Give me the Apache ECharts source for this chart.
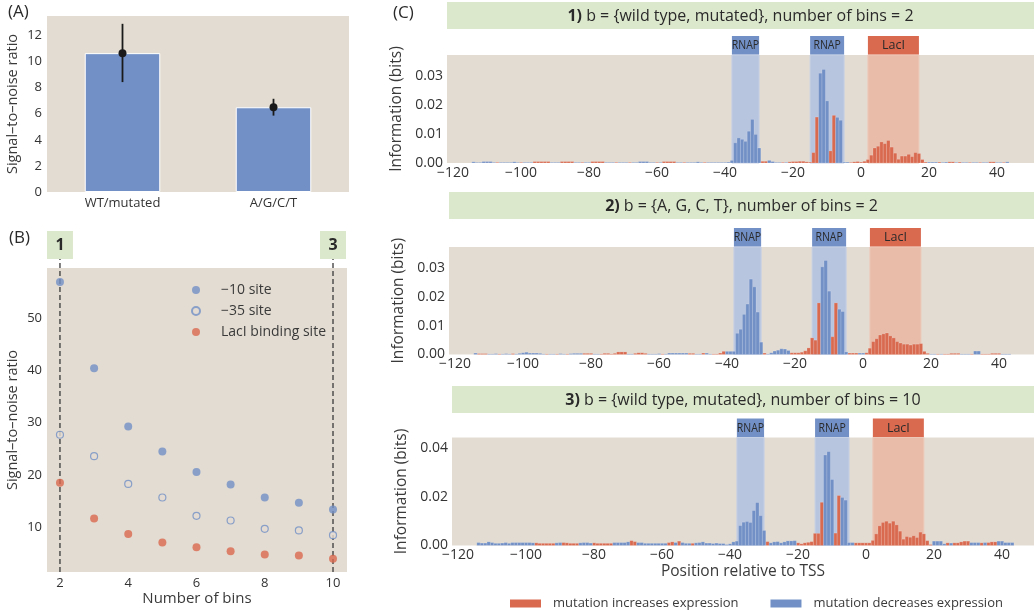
<!DOCTYPE html>
<html>
<head>
<meta charset="utf-8">
<script src="https://cdn.jsdelivr.net/npm/echarts@6/dist/echarts.min.js"></script>
<style>
  html, body { margin: 0; padding: 0; background: #ffffff; }
  #chart { width: 1034px; height: 611px; }
</style>
</head>
<body>
<div id="chart"></div>
<script>
// ---------- Panel A: signal-to-noise for two mutation alphabets ----------
const alphabetLabels = ['WT/mutated', 'A/G/C/T'];
const snrMean = [10.65, 6.5];
const snrLow = [8.43, 5.86];
const snrHigh = [12.9, 7.15];
const snrTicksA = [0, 2, 4, 6, 8, 10, 12];

// ---------- Panel B: signal-to-noise vs number of bins ----------
const binCounts = [2, 3, 4, 5, 6, 7, 8, 9, 10];
const snrMinus10 = [56.9, 40.4, 29.3, 24.5, 20.6, 18.2, 15.7, 14.7, 13.4];
const snrMinus35 = [27.7, 23.6, 18.3, 15.7, 12.2, 11.3, 9.7, 9.4, 8.5];
const snrLacI = [18.5, 11.7, 8.7, 7.1, 6.2, 5.4, 4.8, 4.6, 4.0];
const binTicks = [2, 4, 6, 8, 10];
const snrTicksB = [10, 20, 30, 40, 50];
const highlightedBins = [2, 10];
const highlightedLabels = ['1', '3'];

// ---------- Panel C: information footprints ----------
// one value per position, starting at firstPosition; effect '+' = increases, '-' = decreases expression
const firstPosition = -114;
const positionTicks = [-120, -100, -80, -60, -40, -20, 0, 20, 40];
const infoTicks = [[0, 0.01, 0.02, 0.03], [0, 0.01, 0.02, 0.03], [0, 0.02, 0.04]];
const siteLabels = ['RNAP', 'RNAP', 'LacI'];
const siteStart = [-38, -15, 2];
const siteEnd = [-30, -5, 17];
const panelTitles = [
  '{n|1)} b = {wild type, mutated}, number of bins = 2',
  '{n|2)} b = {A, G, C, T}, number of bins = 2',
  '{n|3)} b = {wild type, mutated}, number of bins = 10'
];

const infoC1 = [
  .0004, .0002, .0002, .0005, .0005, .0005, .0002, .0002, .0002, .0002,
  .0002, .0002, .0004, .0002, .0002, .0002, .0002, .0002, .0005, .0005,
  .0005, .0005, .0005, .0002, .0002, .0002, .0005, .0005, .0005, .0005,
  .0002, .0002, .0002, .0002, .0002, .0005, .0005, .0005, .0005, .0002,
  .0002, .0002, .0002, .0002, .0002, .0002, .0002, .0002, .0002, .0005,
  .0005, .0005, .0002, .0002, .0002, .0002, .0005, .0005, .0005, .0005,
  .0002, .0002, .0002, .0002, .0002, .0002, .0004, .0002, .0002, .0002,
  .0002, .0002, .0002, .0002, .0002, .0003, .0009, .0070, .0087, .0082,
  .0075, .0110, .0151, .0099, .0052, .0006, .0006, .0009, .0005, .0002,
  .0002, .0002, .0002, .0004, .0005, .0005, .0006, .0006, .0004, .0003,
  .0036, .0159, .0311, .0324, .0215, .0042, .0165, .0158, .0148, .0003,
  .0003, .0002, .0004, .0005, .0003, .0006, .0012, .0027, .0052, .0058,
  .0073, .0067, .0078, .0055, .0034, .0013, .0024, .0024, .0030, .0022,
  .0036, .0033, .0012, .0003, .0003, .0003, .0003, .0003, .0002, .0003,
  .0004, .0004, .0002, .0003, .0002, .0002, .0002, .0002, .0002, .0002,
  .0002, .0002, .0004, .0004, .0002, .0002, .0002, .0004
];
const effectC1 = [
  '-------+--', '----+---++', '+++---++++', '--+--++++-', '--+---+---',
  '----+-++++', '--+-----+-', '----------', '-----++---', '-+-+++++++',
  '++---++---', '-+++++++++', '++++++++++', '++++---+--', '++-+--+--+',
  '--++--+-'
].join('');

const infoC2 = [
  .0005, .0003, .0003, .0003, .0002, .0002, .0003, .0002, .0002, .0003,
  .0002, .0003, .0002, .0004, .0006, .0008, .0005, .0005, .0005, .0004,
  .0002, .0002, .0002, .0002, .0002, .0003, .0002, .0002, .0003, .0004,
  .0004, .0004, .0004, .0004, .0004, .0002, .0002, .0002, .0004, .0004,
  .0002, .0004, .0009, .0009, .0009, .0002, .0002, .0004, .0006, .0006,
  .0004, .0002, .0002, .0002, .0003, .0002, .0002, .0005, .0005, .0005,
  .0005, .0005, .0005, .0004, .0004, .0002, .0002, .0005, .0005, .0002,
  .0002, .0002, .0005, .0011, .0011, .0011, .0011, .0074, .0088, .0140,
  .0176, .0263, .0236, .0148, .0043, .0005, .0002, .0006, .0012, .0015,
  .0020, .0019, .0014, .0006, .0006, .0006, .0008, .0013, .0023, .0058,
  .0050, .0180, .0306, .0328, .0221, .0062, .0180, .0158, .0150, .0009,
  .0005, .0005, .0005, .0005, .0005, .0006, .0022, .0045, .0055, .0068,
  .0072, .0075, .0065, .0058, .0045, .0040, .0036, .0036, .0033, .0036,
  .0036, .0038, .0011, .0004, .0002, .0002, .0002, .0002, .0002, .0002,
  .0004, .0004, .0004, .0002, .0002, .0002, .0002, .0012, .0012, .0002,
  .0002, .0002, .0004, .0004, .0004, .0002, .0002, .0002
];
const effectC2 = [
  '-+++---+--', '-+--------', '-+--+--+--', '--+++--+++', '+++++--+++',
  '+----+----', '---++--+--', '++++------', '-----+----', '---+++++++',
  '++---++---', '+++--+++++', '++++++++++', '++++--+-++', '+++---+--+',
  '+++++---'
].join('');

const infoC3 = [
  .0012, .0010, .0010, .0015, .0012, .0009, .0009, .0010, .0012, .0009,
  .0012, .0012, .0012, .0012, .0012, .0012, .0011, .0011, .0009, .0009,
  .0009, .0009, .0009, .0011, .0012, .0012, .0011, .0009, .0009, .0009,
  .0011, .0012, .0012, .0010, .0011, .0009, .0009, .0009, .0009, .0009,
  .0012, .0012, .0012, .0012, .0015, .0020, .0016, .0012, .0012, .0009,
  .0009, .0009, .0009, .0009, .0009, .0009, .0012, .0015, .0012, .0018,
  .0012, .0009, .0009, .0009, .0011, .0012, .0015, .0010, .0010, .0008,
  .0010, .0008, .0008, .0004, .0007, .0015, .0018, .0082, .0096, .0099,
  .0095, .0144, .0177, .0123, .0062, .0016, .0011, .0015, .0016, .0011,
  .0015, .0019, .0019, .0020, .0011, .0007, .0011, .0013, .0016, .0050,
  .0050, .0178, .0373, .0387, .0272, .0051, .0206, .0198, .0187, .0012,
  .0012, .0011, .0011, .0011, .0011, .0011, .0021, .0048, .0081, .0095,
  .0100, .0092, .0100, .0085, .0059, .0026, .0037, .0034, .0040, .0033,
  .0055, .0048, .0020, .0004, .0018, .0018, .0018, .0007, .0011, .0010,
  .0011, .0011, .0015, .0018, .0018, .0012, .0012, .0012, .0011, .0012,
  .0012, .0015, .0015, .0018, .0018, .0012, .0012, .0012
];
const effectC3 = [
  '----------', '-------+++', '+++--+++++', '----++++++', '-----++---',
  '------++-+', '---+------', '----------', '-----+----', '----++++++',
  '++---++---', '-+++++++++', '++++++++++', '++++----+-', '+++++---+-',
  '+++-----'
].join('');

// ---------- styling and layout ----------
const FONT = '"Open Sans", "DejaVu Sans", sans-serif';
const INK = '#2a2a2a';
const TICK = '#333333';
const NAME = '#3a3a3a';
const PLOT_BG = '#E3DCD2';
const BLUE = '#7290C6';
const RED = '#D9694F';
const GREEN = '#DCE8CC';
const RNAP_SHADE = '#B8C5DF';
const LACI_SHADE = '#E8BCA9';

const cLayout = [
  { left: 447, top: 55, height: 108, xMax: 50.85, yMax: 0.0374, band: 2 },
  { left: 449, top: 247, height: 107.5, xMax: 50.26, yMax: 0.0375, band: 192 },
  { left: 452, top: 437.5, height: 108, xMax: 49.4, yMax: 0.0445, band: 386 }
];
const cPanels = [
  { info: infoC1, effect: effectC1 },
  { info: infoC2, effect: effectC2 },
  { info: infoC3, effect: effectC3 }
];

const minusSign = v => (v < 0 ? '\u2212' + Math.abs(v) : String(v));
const tickText = { color: TICK, fontFamily: FONT, fontSize: 13 };
const cTickText = { color: TICK, fontFamily: FONT, fontSize: 14 };
const hiddenAxisParts = {
  axisLine: { show: false }, axisTick: { show: false }, splitLine: { show: false }
};

const grids = [
  { left: 47, top: 16, width: 302, height: 176 },
  { left: 47, top: 268, width: 300, height: 304 }
].concat(cLayout.map(c => ({ left: c.left, top: c.top, right: 0, height: c.height })));
grids.forEach(g => {
  g.show = true; g.backgroundColor = PLOT_BG; g.borderWidth = 0;
  g.containLabel = false; g.outerBoundsMode = 'none';
});

const xAxes = [
  Object.assign({
    type: 'category', gridIndex: 0, data: alphabetLabels,
    axisLabel: Object.assign({ margin: 5 }, tickText)
  }, hiddenAxisParts),
  Object.assign({
    type: 'value', gridIndex: 1, min: 1.62, max: 10.41,
    name: 'Number of bins', nameLocation: 'middle', nameGap: 19,
    nameTextStyle: { color: NAME, fontFamily: FONT, fontSize: 15 },
    axisLabel: Object.assign({ margin: 5, customValues: binTicks }, tickText)
  }, hiddenAxisParts)
].concat(cLayout.map((c, k) => Object.assign({
  type: 'value', gridIndex: 2 + k, min: -121.8, max: c.xMax,
  name: k === 2 ? 'Position relative to TSS' : '',
  nameLocation: 'middle', nameGap: 18,
  nameTextStyle: { color: NAME, fontFamily: FONT, fontSize: 15.5 },
  axisLabel: Object.assign({ margin: 3, customValues: positionTicks, formatter: minusSign }, cTickText)
}, hiddenAxisParts)));

const yAxes = [
  Object.assign({
    type: 'value', gridIndex: 0, min: 0, max: 13.5,
    name: 'Signal\u2013to\u2013noise ratio', nameLocation: 'middle', nameGap: 27,
    nameTextStyle: { color: NAME, fontFamily: FONT, fontSize: 14.5 },
    axisLabel: Object.assign({ margin: 5, customValues: snrTicksA }, tickText)
  }, hiddenAxisParts),
  Object.assign({
    type: 'value', gridIndex: 1, min: 1.45, max: 59.6,
    name: 'Signal\u2013to\u2013noise ratio', nameLocation: 'middle', nameGap: 27,
    nameTextStyle: { color: NAME, fontFamily: FONT, fontSize: 14.5 },
    axisLabel: Object.assign({ margin: 5, customValues: snrTicksB }, tickText)
  }, hiddenAxisParts)
].concat(cLayout.map((c, k) => Object.assign({
  type: 'value', gridIndex: 2 + k, min: 0, max: c.yMax,
  name: 'Information (bits)', nameLocation: 'middle', nameGap: 35,
  nameTextStyle: { color: NAME, fontFamily: FONT, fontSize: 15.5 },
  axisLabel: Object.assign({ margin: 4, customValues: infoTicks[k], formatter: v => v.toFixed(2) }, cTickText)
}, hiddenAxisParts)));

// ---------- series ----------
const series = [];

// Panel A bars with error bars
series.push({
  type: 'bar', xAxisIndex: 0, yAxisIndex: 0, data: snrMean, barWidth: '50%',
  itemStyle: { color: BLUE, borderColor: '#ffffff', borderWidth: 1 }, z: 2, silent: true
});
series.push({
  type: 'custom', xAxisIndex: 0, yAxisIndex: 0, z: 3, silent: true,
  data: snrMean.map((m, i) => [i, snrLow[i], snrHigh[i], m]),
  encode: { x: 0, y: [1, 2, 3] },
  renderItem: (params, api) => {
    const lo = api.coord([api.value(0), api.value(1)]);
    const hi = api.coord([api.value(0), api.value(2)]);
    const mid = api.coord([api.value(0), api.value(3)]);
    return {
      type: 'group', children: [
        { type: 'line', shape: { x1: lo[0], y1: lo[1], x2: hi[0], y2: hi[1] },
          style: { stroke: '#1a1a1a', lineWidth: 1.8 } },
        { type: 'circle', shape: { cx: mid[0], cy: mid[1], r: 4 }, style: { fill: '#1a1a1a' } }
      ]
    };
  }
});

// Panel B: highlighted bin counts (dashed guides with numbered tabs)
series.push({
  type: 'custom', xAxisIndex: 1, yAxisIndex: 1, z: 1, silent: true, clip: false,
  data: highlightedBins.map(b => [b, 1.45]),
  encode: { x: 0, y: 1 },
  renderItem: (params, api) => {
    const p = api.coord([api.value(0), api.value(1)]);
    const cs = params.coordSys;
    return {
      type: 'group', children: [
        { type: 'line', shape: { x1: p[0], y1: cs.y + cs.height, x2: p[0], y2: cs.y - 9 },
          style: { stroke: '#3a3a3a', lineWidth: 1.3, lineDash: [5, 3] } },
        { type: 'rect', shape: { x: p[0] - 13, y: cs.y - 37, width: 26, height: 28 },
          style: { fill: GREEN } },
        { type: 'text', style: {
            text: highlightedLabels[params.dataIndex], x: p[0], y: cs.y - 23,
            align: 'center', verticalAlign: 'middle', fill: INK,
            fontFamily: FONT, fontSize: 16, fontWeight: 'bold' } }
      ]
    };
  }
});
const bSeries = [
  { name: '\u221210 site', values: snrMinus10, style: { color: BLUE }, size: 8 },
  { name: '\u221235 site', values: snrMinus35,
    style: { color: PLOT_BG, borderColor: BLUE, borderWidth: 1.2 }, size: 7 },
  { name: 'LacI binding site', values: snrLacI, style: { color: RED }, size: 8 }
];
bSeries.forEach(s => series.push({
  type: 'scatter', name: s.name, xAxisIndex: 1, yAxisIndex: 1, z: 3, silent: true,
  symbol: 'circle', symbolSize: s.size, itemStyle: s.style,
  data: binCounts.map((b, i) => [b, s.values[i]])
}));

// Panel C: site shading, site tabs and per-position bars
const siteRenderer = (params, api) => {
  const x0 = api.coord([api.value(0), 0])[0];
  const x1 = api.coord([api.value(1), 0])[0];
  const cs = params.coordSys;
  const isRnap = siteLabels[params.dataIndex] === 'RNAP';
  return {
    type: 'group', children: [
      { type: 'rect', shape: { x: x0, y: cs.y, width: x1 - x0, height: cs.height },
        style: { fill: isRnap ? RNAP_SHADE : LACI_SHADE, stroke: isRnap ? '#C6D0E4' : '#EDC8B8', lineWidth: 1 } },
      { type: 'rect', shape: { x: x0, y: cs.y - 19, width: x1 - x0, height: 18.5 },
        style: { fill: isRnap ? BLUE : RED } },
      { type: 'text', x: (x0 + x1) / 2, y: cs.y - 9.5, scaleX: isRnap ? 0.84 : 1,
        style: {
          text: siteLabels[params.dataIndex], x: 0, y: 0,
          align: 'center', verticalAlign: 'middle', fill: INK,
          fontFamily: FONT, fontSize: 12.5 } }
    ]
  };
};

// one rectangle per position, one unit wide, from zero up to the information value
const positionBar = color => (params, api) => {
  const pos = api.value(0);
  const top = api.coord([pos - 0.5, api.value(1)]);
  const base = api.coord([pos + 0.5, 0]);
  return {
    type: 'rect',
    shape: { x: top[0], y: top[1], width: base[0] - top[0], height: base[1] - top[1] },
    style: { fill: color, stroke: 'rgba(255,255,255,0.55)', lineWidth: 0.3 }
  };
};

cPanels.forEach((panel, k) => {
  const increases = [];
  const decreases = [];
  panel.info.forEach((v, i) => {
    const point = [firstPosition + i, v];
    if (panel.effect[i] === '+') increases.push(point); else decreases.push(point);
  });
  series.push({
    type: 'custom', xAxisIndex: 2 + k, yAxisIndex: 2 + k, z: 1, silent: true, clip: false,
    data: siteStart.map((s, i) => [s, siteEnd[i], 0]),
    encode: { x: [0, 1], y: 2 },
    renderItem: siteRenderer
  });
  series.push({
    type: 'custom', name: 'mutation increases expression', xAxisIndex: 2 + k, yAxisIndex: 2 + k,
    data: increases, encode: { x: 0, y: 1 }, z: 2, silent: true,
    itemStyle: { color: RED }, renderItem: positionBar(RED)
  });
  series.push({
    type: 'custom', name: 'mutation decreases expression', xAxisIndex: 2 + k, yAxisIndex: 2 + k,
    data: decreases, encode: { x: 0, y: 1 }, z: 2, silent: true,
    itemStyle: { color: BLUE }, renderItem: positionBar(BLUE)
  });
});

// ---------- titles, panel letters ----------
const graphics = [
  { type: 'text', left: 8, top: 4, style: { text: '(A)', fill: INK, fontFamily: FONT, fontSize: 17 } },
  { type: 'text', left: 9, top: 230, style: { text: '(B)', fill: INK, fontFamily: FONT, fontSize: 17 } },
  { type: 'text', left: 393, top: 5, style: { text: '(C)', fill: INK, fontFamily: FONT, fontSize: 17 } }
];
cLayout.forEach((c, k) => {
  graphics.push({
    type: 'rect', silent: true,
    shape: { x: c.left, y: c.band, width: 1034 - c.left, height: 27 },
    style: { fill: GREEN }
  });
  graphics.push({
    type: 'text', silent: true, x: (c.left + 1034) / 2, y: c.band + 14,
    style: {
      text: panelTitles[k], align: 'center', verticalAlign: 'middle',
      fill: INK, fontFamily: FONT, fontSize: 16,
      rich: { n: { fontFamily: FONT, fontSize: 16, fontWeight: 'bold', fill: INK } }
    }
  });
});

const chart = echarts.init(document.getElementById('chart'), null, { renderer: 'canvas' });
chart.setOption({
  animation: false,
  backgroundColor: '#ffffff',
  textStyle: { fontFamily: FONT },
  grid: grids,
  xAxis: xAxes,
  yAxis: yAxes,
  legend: [
    {
      data: bSeries.map(s => s.name), orient: 'vertical', left: 186, top: 277,
      itemWidth: 40, itemHeight: 8, itemGap: 5, selectedMode: false,
      textStyle: { color: NAME, fontFamily: FONT, fontSize: 14, lineHeight: 16 }
    },
    {
      data: ['mutation increases expression', 'mutation decreases expression'],
      orient: 'horizontal', left: 505, top: 592, icon: 'rect',
      itemWidth: 31, itemHeight: 8, itemGap: 32, selectedMode: false,
      itemStyle: { borderWidth: 0 },
      textStyle: { color: NAME, fontFamily: FONT, fontSize: 13, padding: [0, 0, 0, 7] }
    }
  ],
  graphic: graphics,
  series: series
});
</script>
</body>
</html>
